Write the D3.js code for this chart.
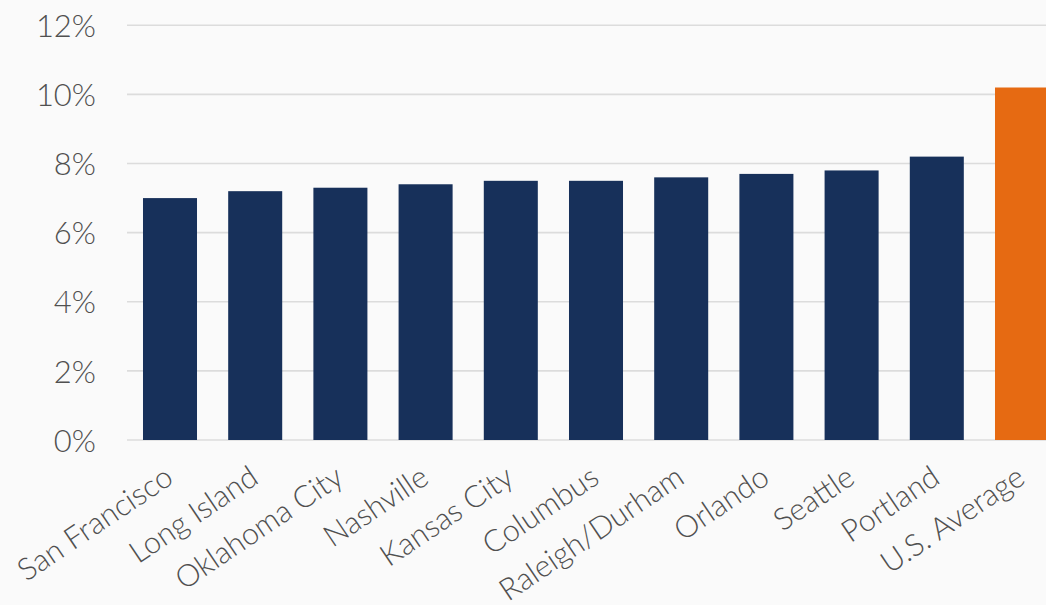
<!DOCTYPE html>
<html><head><meta charset="utf-8">
<script src="https://cdn.jsdelivr.net/npm/d3@7"></script>
<style>
html,body{margin:0;padding:0;background:#fafafa;}
svg{display:block;}
</style></head>
<body>
<svg id="chart" width="1046" height="605"></svg>
<script>
const categories = ["San Francisco","Long Island","Oklahoma City","Nashville","Kansas City","Columbus","Raleigh/Durham","Orlando","Seattle","Portland","U.S. Average"];
const values = [7.0,7.2,7.3,7.4,7.5,7.5,7.6,7.7,7.8,8.2,10.2];
const yTicks = [0,2,4,6,8,10,12];
const highlight = "U.S. Average";

const svg = d3.select("#chart");
const W = 1046, H = 605;
svg.append("rect").attr("width",W).attr("height",H).attr("fill","#fafafa");

const x = d3.scaleBand().domain(categories).range([127.4,1064.6]).paddingInner(0.366).paddingOuter(0.183);
const y = d3.scaleLinear().domain([0,12]).range([440,25.3]);

const font = "Lato, 'Open Sans', sans-serif";

// gridlines
svg.append("g").selectAll("line").data(yTicks).join("line")
  .attr("x1",127).attr("x2",W)
  .attr("y1",d=>y(d)).attr("y2",d=>y(d))
  .attr("stroke","#dcdcdc").attr("stroke-width",1.6);

// y labels
const yAxis = d3.axisLeft(y).tickValues(yTicks).tickFormat(d=>d+"%").tickSize(0).tickPadding(0);
const gy = svg.append("g").attr("transform","translate(96,0)").call(yAxis);
gy.select(".domain").remove();
gy.selectAll("text").attr("font-family",font).attr("font-size",31).attr("font-weight",300).attr("fill","#505050").attr("dy","0.36em");

// bars
svg.append("g").selectAll("rect").data(categories).join("rect")
  .attr("x",d=>x(d)).attr("width",x.bandwidth())
  .attr("y",(d,i)=>y(values[i])).attr("height",(d,i)=>y(0)-y(values[i]))
  .attr("fill",d=>d===highlight?"#e66a12":"#17305a");

// x labels
const xAxis = d3.axisBottom(x).tickSize(0).tickPadding(0);
const gx = svg.append("g").attr("transform","translate(0,440)").call(xAxis);
gx.select(".domain").remove();
gx.selectAll("text")
  .attr("font-family",font).attr("font-size",30.5).attr("font-weight",300).attr("fill","#505050")
  .attr("text-anchor","end").attr("dy",null).attr("y",0)
  .attr("transform","translate(5,42) rotate(-34)");
</script>
</body></html>
